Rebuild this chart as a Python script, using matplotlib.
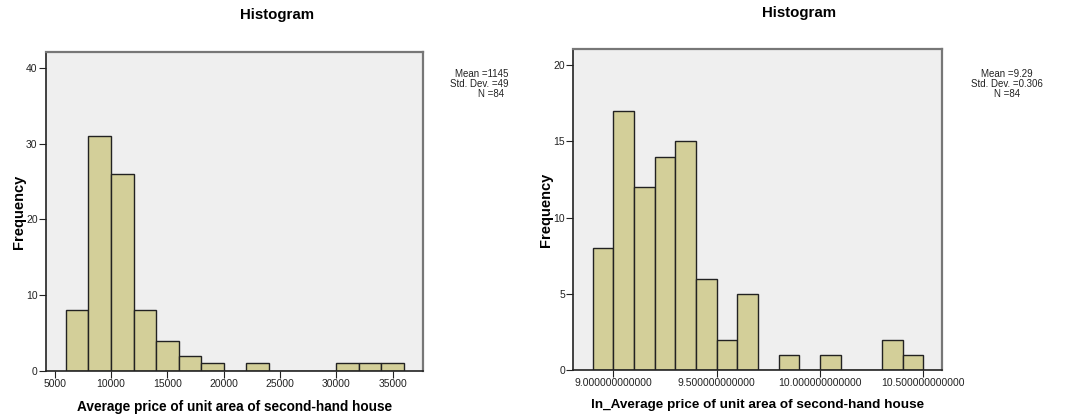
import matplotlib
matplotlib.use("Agg")
import matplotlib.pyplot as plt
from matplotlib.transforms import Bbox
import numpy as np

plt.rcParams["font.family"] = ["Liberation Sans", "DejaVu Sans"]

# ---- data ----
price_edges = [6000, 8000, 10000, 12000, 14000, 16000, 18000, 20000,
               22000, 24000, 26000, 28000, 30000, 32000, 34000, 36000]
price_counts = [8, 31, 26, 8, 4, 2, 1, 0, 1, 0, 0, 0, 1, 1, 1]
price_ticks = [5000, 10000, 15000, 20000, 25000, 30000, 35000]
price_stats = ["Mean =11459.83", "Std. Dev. =4932.51", "N =84"]

ln_edges = [8.9, 9.0, 9.1, 9.2, 9.3, 9.4, 9.5, 9.6, 9.7, 9.8, 9.9,
            10.0, 10.1, 10.2, 10.3, 10.4, 10.5]
ln_counts = [8, 17, 12, 14, 15, 6, 2, 5, 0, 1, 0, 1, 0, 0, 2, 1]
ln_ticks = [9.0, 9.5, 10.0, 10.5]
ln_stats = ["Mean =9.29", "Std. Dev. =0.306", "N =84"]

BAR = "#d3cf99"
BG = "#efefef"

fig = plt.figure(figsize=(10.72, 4.15), dpi=100)
ax1 = fig.add_axes([0.0429, 0.106, 0.3517, 0.7687])
ax2 = fig.add_axes([0.5348, 0.1084, 0.3442, 0.7728])


def draw_hist(ax, edges, counts):
    edges = np.array(edges)
    ax.bar(edges[:-1], counts, width=np.diff(edges), align="edge",
           color=BAR, edgecolor="#222222", linewidth=1.0, zorder=2)
    ax.set_facecolor(BG)
    for s in ["top", "right"]:
        ax.spines[s].set_color("#777777")
        ax.spines[s].set_linewidth(1.6)
    for s in ["left", "bottom"]:
        ax.spines[s].set_color("#222222")
        ax.spines[s].set_linewidth(1.2)
    ax.tick_params(direction="out", length=5, width=0.8, labelsize=7.5,
                   colors="#222222", pad=1)
    ax.set_ylabel("Frequency", fontsize=10.5, fontweight="bold")


# left panel
draw_hist(ax1, price_edges, price_counts)
ax1.set_xlim(4230, 37690)
ax1.set_ylim(0, 42.1)
ax1.set_xticks(price_ticks)
ax1.set_yticks([0, 10, 20, 30, 40])
ax1.set_xlabel("Average price of unit area of second-hand house",
               fontsize=9.8, fontweight="bold", labelpad=7.5)
ax1.yaxis.set_label_coords(-0.054, 0.5)

# right panel
draw_hist(ax2, ln_edges, ln_counts)
ax2.set_xlim(8.806, 10.592)
ax2.set_ylim(0, 21.03)
ax2.set_xticks(ln_ticks)
ax2.set_xticklabels([f"{t:.12f}" for t in ln_ticks])
ax2.set_yticks([0, 5, 10, 15, 20])
ax2.set_xlabel("ln_Average price of unit area of second-hand house",
               fontsize=9.7, fontweight="bold", labelpad=7.5)
ax2.yaxis.set_label_coords(-0.056, 0.5)

# titles
fig.text(0.2584, 0.963, "Histogram", ha="center", va="center",
         fontsize=10.8, fontweight="bold")
fig.text(0.7453, 0.969, "Histogram", ha="center", va="center",
         fontsize=10.8, fontweight="bold")

# stats boxes (left one is cut off by the panel edge)
W, H = 1072, 415
clip = Bbox.from_extents(0, 0, 509, H)
for i, s in enumerate(price_stats):
    t = fig.text(491 / W, 1 - (74 + 10 * i) / H, s, ha="center",
                 va="center", fontsize=7.0, color="#222222")
    t.set_clip_box(clip)
    t.set_clip_on(True)
for i, s in enumerate(ln_stats):
    fig.text(1007 / W, 1 - (74 + 10 * i) / H, s, ha="center",
             va="center", fontsize=7.0, color="#222222")

fig.savefig("out.png", dpi=100)
